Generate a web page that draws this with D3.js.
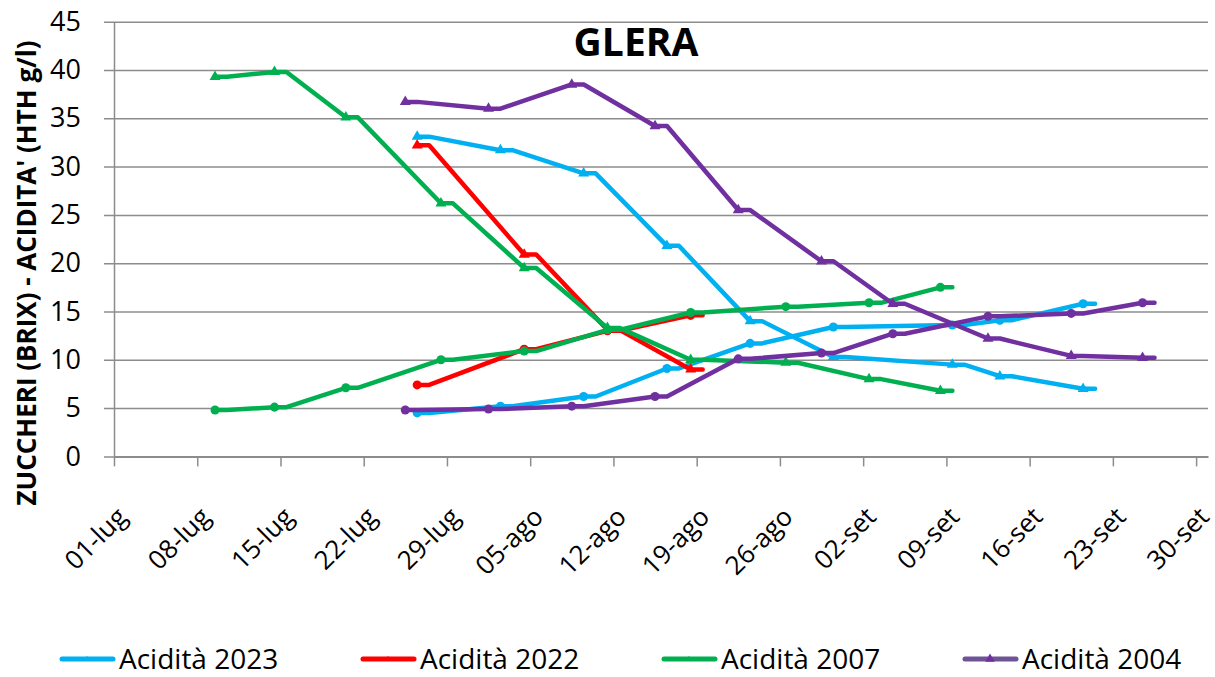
<!DOCTYPE html>
<html>
<head>
<meta charset="utf-8">
<script src="https://cdn.jsdelivr.net/npm/d3@7"></script>
<style>
  body { margin: 0; background: #fff; }
  svg { display: block; font-family: "Open Sans", sans-serif; }
</style>
</head>
<body>
<script>
// tick labels of the date axis (one every 7 days)
var tickLabels = ["01-lug", "08-lug", "15-lug", "22-lug", "29-lug", "05-ago", "12-ago",
                  "19-ago", "26-ago", "02-set", "09-set", "16-set", "23-set", "30-set"];

// sampling dates (dd-mm) and values for each vintage
var dates2023 = ["27-07", "03-08", "10-08", "17-08", "24-08", "31-08", "10-09", "14-09", "21-09"];
var acid2023  = [33.1, 31.7, 29.3, 21.8, 14.0, 10.3, 9.5, 8.3, 7.0];
var sugar2023 = [4.5, 5.2, 6.2, 9.1, 11.7, 13.4, 13.6, 14.1, 15.8];

var dates2022 = ["27-07", "05-08", "12-08", "19-08"];
var acid2022  = [32.2, 20.9, 13.1, 9.0];
var sugar2022 = [7.4, 11.1, 13.0, 14.6];

var dates2007 = ["10-07", "15-07", "21-07", "29-07", "05-08", "12-08", "19-08", "27-08", "03-09", "09-09"];
var acid2007  = [39.3, 39.8, 35.1, 26.2, 19.5, 13.3, 10.0, 9.7, 8.0, 6.8];
var sugar2007 = [4.8, 5.1, 7.1, 10.0, 10.9, 13.1, 14.9, 15.5, 15.9, 17.5];

var dates2004 = ["26-07", "02-08", "09-08", "16-08", "23-08", "30-08", "05-09", "13-09", "20-09", "26-09"];
var acid2004  = [36.7, 36.0, 38.5, 34.2, 25.5, 20.2, 15.8, 12.2, 10.4, 10.2];
var sugar2004 = [4.8, 4.9, 5.2, 6.2, 10.1, 10.7, 12.7, 14.5, 14.8, 15.9];

var legendNames = ["Acidità 2023", "Acidità 2022", "Acidità 2007", "Acidità 2004"];
var colors = ["#00b0f0", "#ff0000", "#00b050", "#7030a0"];
var legendColors = ["#00b0f0", "#ff0000", "#00b050", "#6e5494"];

// all years drawn on the same season
var parseDay = d3.timeParse("%d-%m-%Y");
function toDate(s) { return parseDay(s + "-2001"); }

function zip(dates, values) {
  return dates.map(function(d, i) { return [toDate(d), values[i]]; });
}

var series = [
  {data: zip(dates2023, acid2023),  color: colors[0], marker: "tri"},
  {data: zip(dates2023, sugar2023), color: colors[0], marker: "dot"},
  {data: zip(dates2022, acid2022),  color: colors[1], marker: "tri"},
  {data: zip(dates2022, sugar2022), color: colors[1], marker: "dot"},
  {data: zip(dates2007, acid2007),  color: colors[2], marker: "tri"},
  {data: zip(dates2007, sugar2007), color: colors[2], marker: "dot"},
  {data: zip(dates2004, acid2004),  color: colors[3], marker: "tri"},
  {data: zip(dates2004, sugar2004), color: colors[3], marker: "dot"}
];

var W = 1215, H = 677;
var margin = {left: 114, top: 21.7, right: 7, bottom: 220.6};
var width = W - margin.left - margin.right;
var height = H - margin.top - margin.bottom;
var grey = "#8c8c8c";

var svg = d3.select("body").append("svg").attr("width", W).attr("height", H);

var x = d3.scaleTime()
          .domain([toDate("01-07"), toDate("01-10")])
          .range([0, width]);
var y = d3.scaleLinear()
          .domain([0, 45])
          .range([height, 0]);

var tickDates = tickLabels.map(function(d, i) { return d3.timeDay.offset(toDate("01-07"), i * 7); });

var g = svg.append("g").attr("transform", "translate(" + margin.left + "," + margin.top + ")");

// y axis with gridlines
var yAxis = d3.axisLeft(y).tickValues(d3.range(0, 46, 5)).tickSizeInner(-width).tickSizeOuter(0).tickPadding(33);
var yG = g.append("g").call(yAxis);
yG.select(".domain").attr("stroke", grey).attr("stroke-width", 1.5);
yG.selectAll(".tick line").attr("x1", -10).attr("stroke", grey).attr("stroke-width", 1.5);
yG.selectAll(".tick text").attr("font-size", 27).attr("fill", "#000")
  .attr("font-family", "Open Sans, sans-serif");

// x axis
var xAxis = d3.axisBottom(x).tickValues(tickDates).tickSize(10).tickSizeOuter(0)
              .tickFormat(function(d, i) { return tickLabels[i]; });
var xG = g.append("g").attr("transform", "translate(0," + height + ")").call(xAxis);
xG.select(".domain").attr("stroke", grey).attr("stroke-width", 2);
xG.selectAll(".tick line").attr("stroke", grey).attr("stroke-width", 1.5);
xG.selectAll(".tick text")
  .attr("font-size", 26).attr("fill", "#000").attr("font-family", "Open Sans, sans-serif")
  .attr("text-anchor", "end").attr("dy", null).attr("y", 0)
  .attr("transform", "translate(14,62) rotate(-45)");

// the original draws each point with a short flat step after the marker
var off = 6;
function stepCurve(context) {
  var first;
  return {
    areaStart: function() {}, areaEnd: function() {},
    lineStart: function() { first = true; },
    lineEnd: function() {},
    point: function(px, py) {
      if (first) { context.moveTo(px - off, py); first = false; }
      else context.lineTo(px - off, py);
      context.lineTo(px + off, py);
    }
  };
}

var line = d3.line()
             .x(function(d) { return x(d[0]); })
             .y(function(d) { return y(d[1]); })
             .curve(stepCurve);

var tri = d3.symbol().type(d3.symbolTriangle).size(52);
var dot = d3.symbol().type(d3.symbolCircle).size(64);

series.forEach(function(s) {
  g.append("path").attr("d", line(s.data))
   .attr("fill", "none").attr("stroke", s.color).attr("stroke-width", 4.5)
   .attr("stroke-linejoin", "round").attr("stroke-linecap", "round");
  g.selectAll(null).data(s.data).enter().append("path")
   .attr("d", s.marker == "tri" ? tri : dot)
   .attr("transform", function(d) { return "translate(" + (x(d[0]) - off) + "," + y(d[1]) + ")"; })
   .attr("fill", s.color);
});

// title
svg.append("text").attr("x", 636).attr("y", 56).attr("text-anchor", "middle")
   .attr("font-size", 39).attr("font-weight", "bold").text("GLERA");

// y axis title
svg.append("text").attr("transform", "translate(36,273) rotate(-90)")
   .attr("text-anchor", "middle").attr("font-size", 26).attr("font-weight", "bold")
   .text("ZUCCHERI (BRIX) - ACIDITA' (HTH g/l)");

// legend (acidity series only)
var leg = svg.append("g").attr("transform", "translate(60,659)");
legendNames.forEach(function(name, i) {
  var item = leg.append("g").attr("transform", "translate(" + (i * 301) + ",0)");
  item.append("line").attr("x1", 2).attr("x2", 53).attr("y1", 0).attr("y2", 0)
      .attr("stroke", legendColors[i]).attr("stroke-width", 5).attr("stroke-linecap", "round");
  item.append("path").attr("d", d3.symbol().type(d3.symbolTriangle).size(i == 3 ? 40 : 14))
      .attr("transform", "translate(27,0)").attr("fill", colors[i]);
  item.append("text").attr("x", 59).attr("y", 9.5).attr("font-size", 28).text(name);
});
</script>
</body>
</html>
